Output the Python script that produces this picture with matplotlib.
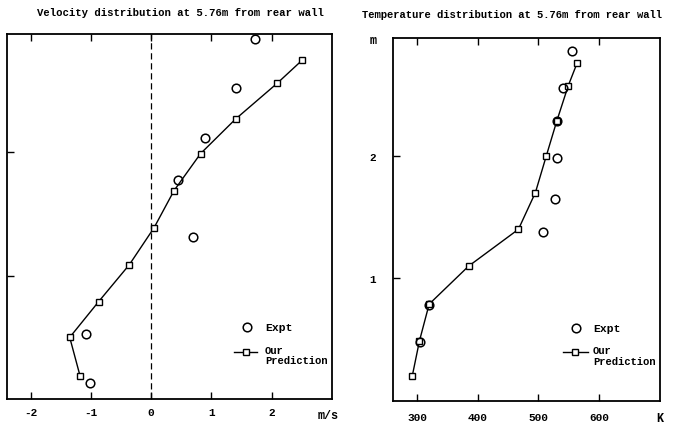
import numpy as np
import matplotlib
matplotlib.use("Agg")
import matplotlib.pyplot as plt

# -------------------------------------------------
# DATA
# -------------------------------------------------
# velocity plot, height in m
vel_pred_x = [2.51, 2.09, 1.40, 0.82, 0.38, 0.05, -0.36, -0.87, -1.35, -1.18]
vel_pred_y = [2.75, 2.56, 2.27, 1.99, 1.69, 1.39, 1.09, 0.79, 0.50, 0.19]
vel_exp_x = [1.72, 1.40, 0.90, 0.44, 0.70, -1.08, -1.02]
vel_exp_y = [2.92, 2.52, 2.12, 1.78, 1.31, 0.53, 0.13]

# temperature plot
tmp_pred_x = [564, 549, 530, 513, 495, 467, 385, 320, 304, 292]
tmp_pred_y = [2.76, 2.57, 2.28, 2.00, 1.70, 1.40, 1.10, 0.79, 0.49, 0.20]
tmp_exp_x = [556, 540, 530, 530, 527, 507, 319, 305]
tmp_exp_y = [2.85, 2.55, 2.28, 1.98, 1.65, 1.38, 0.78, 0.48]

vel_ticks = [-2, -1, 0, 1, 2]
tmp_ticks = [300, 400, 500, 600]
h_ticks = [1, 2]

FONT = "Liberation Mono"
plt.rcParams['font.family'] = [FONT, 'DejaVu Sans']

fig = plt.figure(figsize=(6.81, 4.27), dpi=100)

ax1 = fig.add_axes([0.0103, 0.0632, 0.4772, 0.8548])
ax2 = fig.add_axes([0.5767, 0.0585, 0.3923, 0.8502])

CIRC = 6.2
SQ = 3.8


def style(ax, xpad, ypad):
    for s in ax.spines.values():
        s.set_linewidth(1.3)
    ax.tick_params(direction='in', length=5, width=1.0, labelsize=8,
                   top=True)
    ax.tick_params(axis='x', pad=xpad)
    ax.tick_params(axis='y', pad=ypad)
    for lab in ax.get_xticklabels() + ax.get_yticklabels():
        lab.set_fontweight('bold')


def hand_legend(ax, cx, ty, lx0, lx1, ly, tx):
    ax.plot([cx], [ty], 'o', transform=ax.transAxes, ms=CIRC,
            mfc='none', mec='black', mew=1.1)
    ax.text(tx, ty, "Expt", transform=ax.transAxes, fontsize=8.2,
            fontweight='bold', va='center')
    ax.plot([lx0, lx1], [ly, ly], '-', transform=ax.transAxes,
            color='black', lw=1.0)
    ax.plot([(lx0 + lx1) / 2], [ly], 's', transform=ax.transAxes, ms=SQ,
            mfc='white', mec='black', mew=1.0)
    ax.text(tx, ly + 0.02, "Our\nPrediction", transform=ax.transAxes,
            fontsize=7.6, fontweight='bold', va='top', linespacing=1.1)


# -------------------------------------------------
# LEFT: velocity
# -------------------------------------------------
ax1.plot(vel_pred_x, vel_pred_y, '-', color='black', lw=1.0,
         marker='s', ms=SQ, mfc='white', mec='black', mew=1.0)
ax1.plot(vel_exp_x, vel_exp_y, 'o', ms=CIRC, mfc='none', mec='black', mew=1.1)
ax1.axvline(0, color='black', lw=0.9, ls=(0, (5, 3)))
ax1.set_xlim(-2.39, 3.0)
ax1.set_ylim(0, 2.96)
ax1.set_xticks(vel_ticks)
ax1.set_xticklabels([str(v) for v in vel_ticks])
ax1.set_yticks(h_ticks)
ax1.set_yticklabels([])
style(ax1, 6, 6)
ax1.text(0.955, -0.028, "m/s", transform=ax1.transAxes, fontsize=8.5,
         fontweight='bold', va='top', ha='left')
fig.text(0.265, 0.97, "Velocity distribution at 5.76m from rear wall",
         ha='center', va='center', fontsize=7.7, fontweight='bold')

hand_legend(ax1, 0.738, 0.198, 0.70, 0.77, 0.129, 0.794)

# -------------------------------------------------
# RIGHT: temperature
# -------------------------------------------------
ax2.plot(tmp_pred_x, tmp_pred_y, '-', color='black', lw=1.0,
         marker='s', ms=SQ, mfc='white', mec='black', mew=1.0)
ax2.plot(tmp_exp_x, tmp_exp_y, 'o', ms=CIRC, mfc='none', mec='black', mew=1.1)
ax2.set_xlim(260, 700)
ax2.set_ylim(0, 2.96)
ax2.set_xticks(tmp_ticks)
ax2.set_xticklabels([str(v) for v in tmp_ticks])
ax2.set_yticks(h_ticks)
ax2.set_yticklabels([str(v) for v in h_ticks])
style(ax2, 8, 12)
ax2.text(1.0, -0.03, "K", transform=ax2.transAxes, fontsize=8.5,
         fontweight='bold', va='top', ha='center')
ax2.text(-0.06, 0.995, "m", transform=ax2.transAxes, fontsize=8.5,
         fontweight='bold', va='center', ha='right')
fig.text(0.532, 0.966, "Temperature distribution at 5.76m from rear wall",
         ha='left', va='center', fontsize=7.6, fontweight='bold')

hand_legend(ax2, 0.685, 0.201, 0.637, 0.731, 0.134, 0.749)

plt.savefig("out.png", dpi=100)
plt.close()
